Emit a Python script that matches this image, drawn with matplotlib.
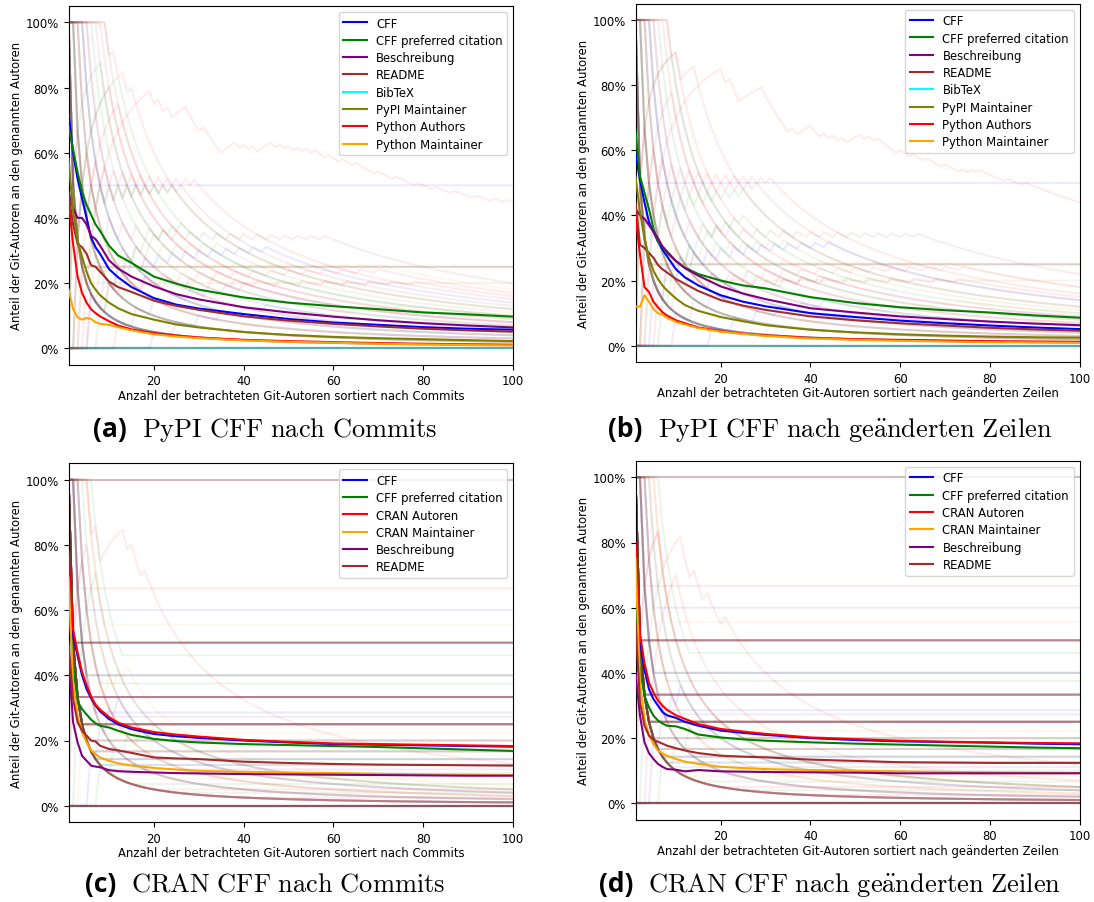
import numpy as np
import matplotlib
matplotlib.use("Agg")
import matplotlib.pyplot as plt
from matplotlib.ticker import PercentFormatter

x_pts = [1, 2, 3, 4, 5, 6, 7, 8, 10, 12, 15, 20, 25, 30, 40, 50, 60, 70, 80, 90, 100]

pypi_sources = ["CFF", "CFF preferred citation", "Beschreibung", "README", "BibTeX",
                "PyPI Maintainer", "Python Authors", "Python Maintainer"]
cran_sources = ["CFF", "CFF preferred citation", "CRAN Autoren", "CRAN Maintainer",
                "Beschreibung", "README"]

colors = {"CFF": "blue", "CFF preferred citation": "green", "Beschreibung": "purple",
          "README": "brown", "BibTeX": "cyan", "PyPI Maintainer": "olive",
          "Python Authors": "red", "Python Maintainer": "orange",
          "CRAN Autoren": "red", "CRAN Maintainer": "orange"}

# Mittelwerte in Prozent -- (a) PyPI nach Commits
pypi_commits_mean = {
    "CFF": [72, 60, 52, 46, 40, 34, 31, 29, 24.3, 21.8, 18.8, 15.4, 13.4, 12.2, 10.5, 9, 7.9, 7.2, 6.5, 6, 5.7],
    "CFF preferred citation": [68, 61, 54, 48, 44, 41, 38, 36, 31.5, 28.5, 26.2, 22, 19.8, 18, 15.6, 14, 12.9, 12, 11, 10.4, 9.7],
    "Beschreibung": [48, 43, 40, 40, 38, 34.5, 33.5, 31.5, 27, 24.5, 22, 19, 16.6, 15, 12.6, 11, 9.7, 8.6, 7.7, 7, 6.4],
    "README": [47, 38, 32, 31, 29, 25.5, 25, 23.5, 20.5, 18.8, 17.3, 14.6, 13, 11.8, 9.8, 8.5, 7.5, 6.7, 6, 5.5, 5.1],
    "BibTeX": [],
    "PyPI Maintainer": [58, 42, 33, 28, 23.5, 20, 18, 16.3, 14, 12.3, 10.5, 8.8, 7.3, 6.4, 5, 4.1, 3.5, 3.1, 2.8, 2.5, 2.2],
    "Python Authors": [45, 32, 22, 17, 14, 12, 10.8, 9.8, 8.3, 7, 5.8, 4.7, 3.9, 3.3, 2.6, 2.2, 1.9, 1.6, 1.4, 1.2, 1.1],
    "Python Maintainer": [18, 12, 9.5, 8.8, 9.3, 9, 8, 7.5, 7.2, 6.5, 5.5, 4.3, 3.6, 3.1, 2.4, 2, 1.7, 1.4, 1.2, 1, 0.9],
}

# (b) PyPI nach geänderten Zeilen
pypi_lines_mean = {
    "CFF": [59, 51, 44, 38, 35, 32, 29.5, 27.5, 23.5, 21, 18.5, 15.5, 13.5, 12.1, 10, 8.8, 7.7, 6.9, 6.2, 5.6, 5.1],
    "CFF preferred citation": [66, 52, 47, 42, 36, 32, 30.5, 28.5, 26, 24, 22, 20, 18.5, 17.6, 14.9, 13.1, 11.8, 10.9, 10.2, 9.3, 8.6],
    "Beschreibung": [42, 40, 39, 37, 35, 33, 30.5, 29, 26, 23.8, 21.5, 18.2, 16, 14.3, 11.5, 10.2, 9, 8.2, 7.4, 6.8, 6.3],
    "README": [44, 31, 30, 28.5, 27, 24.8, 23.5, 22.5, 20.5, 19, 16.8, 14, 12.3, 11, 9, 7.8, 6.9, 6.2, 5.5, 5, 4.6],
    "BibTeX": [],
    "PyPI Maintainer": [52, 41, 33, 27, 23, 20.5, 18.5, 17, 14.5, 12.5, 10.7, 8.8, 7.5, 6.3, 4.9, 4.1, 3.5, 3.1, 2.8, 2.6, 2.5],
    "Python Authors": [40, 28, 18, 16.5, 13.5, 11.8, 10.3, 9.3, 7.8, 6.9, 5.6, 4.5, 3.7, 3.2, 2.4, 2, 1.8, 1.6, 1.4, 1.3, 1.2],
    "Python Maintainer": [12, 12, 15.5, 13.5, 11.2, 10, 9.5, 8.6, 7.3, 6.5, 5.4, 4.3, 3.6, 3, 2.2, 1.8, 1.5, 1.3, 1.1, 1, 0.9],
}

# (c) CRAN nach Commits
cran_commits_mean = {
    "CFF": [76, 52, 46, 40, 35.8, 33, 30.7, 29, 26.6, 25, 23.5, 22, 21.3, 20.8, 20, 19.4, 18.9, 18.7, 18.5, 18.3, 18.1],
    "CFF preferred citation": [62, 43, 32, 29.6, 28, 26.4, 25.3, 24.5, 24, 23, 21.7, 20.5, 19.8, 19.4, 18.9, 18.6, 18.3, 18, 17.6, 17.2, 16.8],
    "CRAN Autoren": [78, 54, 47, 41, 37, 33.5, 31, 29.5, 27.2, 25.5, 24, 22.6, 21.8, 21.2, 20.2, 19.6, 19.1, 18.9, 18.7, 18.5, 18.3],
    "CRAN Maintainer": [70, 37.8, 27.6, 22.5, 19.4, 17, 15.8, 14.8, 13.8, 13, 12.3, 11.6, 11.1, 10.7, 10.4, 10.2, 10, 9.8, 9.6, 9.5, 9.4],
    "Beschreibung": [45, 25.6, 19.4, 15.3, 13.8, 12.3, 12, 11.8, 10.9, 10.6, 10.4, 10.2, 10, 9.9, 9.7, 9.6, 9.5, 9.4, 9.3, 9.2, 9.2],
    "README": [50, 32.7, 25.6, 23, 21.5, 20, 19.7, 18.4, 17.4, 17, 16.2, 14.8, 14.5, 14.3, 13.5, 13.1, 12.8, 12.6, 12.5, 12.4, 12.3],
}

# (d) CRAN nach geänderten Zeilen
cran_lines_mean = {
    "CFF": [75, 50, 41, 35, 32, 30, 28, 27, 26.2, 25, 23.8, 22.3, 21.6, 21, 20, 19.4, 19, 18.8, 18.6, 18.3, 18.1],
    "CFF preferred citation": [65, 41, 33, 29.4, 26.9, 25.4, 24.5, 23.8, 23.6, 22.8, 21.1, 20.2, 19.6, 19.2, 18.7, 18.3, 18, 17.7, 17.4, 17.1, 16.9],
    "CRAN Autoren": [80, 52, 43, 37, 34, 31.5, 30, 28.7, 27, 25.9, 24.3, 22.8, 22, 21.3, 20.2, 19.7, 19.2, 18.9, 18.7, 18.5, 18.4],
    "CRAN Maintainer": [75, 37, 25.9, 20.8, 18.2, 16.2, 15.3, 14.6, 13.6, 12.8, 12.1, 11.2, 10.8, 10.5, 10.2, 10, 9.8, 9.6, 9.5, 9.4, 9.3],
    "Beschreibung": [40, 26.9, 18.7, 15.4, 13.6, 12.1, 11.2, 10.5, 10.3, 9.8, 10.2, 9.8, 9.7, 9.6, 9.5, 9.4, 9.2, 9.2, 9.2, 9.2, 9.2],
    "README": [55, 31, 23.8, 20.8, 19.5, 18.9, 18.3, 17.7, 16.9, 16.2, 15.4, 14.6, 14.3, 14.1, 13.4, 13, 12.6, 12.5, 12.4, 12.4, 12.4],
}

# Einzelne Repositories im Hintergrund:
# (Quelle, Rang des ersten genannten Git-Autors, Anzahl genannter Autoren, Rangabstand, Anzahl Git-Autoren, Anzahl Repos)
pypi_commits_bg = [
    ("BibTeX", 1, 0, 1, 200, 18),
    ("BibTeX", 1, 0, 1, 200, 1), ("BibTeX", 1, 0, 1, 200, 1), ("BibTeX", 1, 0, 1, 200, 1),
    ("BibTeX", 1, 0, 1, 200, 1), ("BibTeX", 1, 0, 1, 200, 1), ("BibTeX", 1, 0, 1, 200, 1),
    ("CFF", 1, 1, 1, 200, 13), ("README", 1, 2, 1, 200, 7), ("PyPI Maintainer", 1, 3, 1, 200, 4),
    ("CFF", 1, 4, 1, 200, 3), ("Beschreibung", 1, 5, 1, 200, 2),
    ("CFF preferred citation", 1, 6, 1, 200, 1), ("README", 1, 7, 1, 200, 1),
    ("Python Authors", 1, 8, 1, 200, 1), ("README", 1, 9, 1, 200, 1),
    ("CFF preferred citation", 2, 7, 1, 200, 1), ("README", 3, 8, 1, 200, 1),
    ("Python Authors", 4, 9, 1, 200, 1), ("Python Authors", 5, 12, 1, 200, 1),
    ("CFF preferred citation", 2, 12, 2, 200, 1), ("README", 1, 20, 3, 200, 1),
    ("Python Authors", 1, 15, 2, 200, 1), ("Python Maintainer", 2, 18, 4, 200, 1),
    ("CFF", 6, 14, 3, 200, 1), ("Python Authors", 3, 16, 5, 200, 1),
    ("CFF preferred citation", 8, 10, 2, 200, 1), ("Beschreibung", 12, 8, 4, 200, 1),
    ("CFF", 20, 6, 5, 200, 1), ("Python Maintainer", 30, 10, 5, 200, 1),
    ("README", 2, 13, 2, 200, 1), ("PyPI Maintainer", 4, 11, 3, 200, 1),
    ("Python Authors", 6, 17, 4, 200, 1), ("CFF preferred citation", 3, 10, 1, 200, 1),
    ("README", 1, 1, 1, 4, 4), ("CFF", 1, 1, 1, 2, 1), ("PyPI Maintainer", 1, 1, 1, 5, 1),
]
pypi_commits_zigzag = [1, 2, 3, 4, 5, 6, 7, 8, 9, 11, 13, 15, 17, 18, 19, 21, 23, 25, 26, 27, 31,
                       36, 37, 38, 40, 42, 44, 45, 46, 48, 50, 52, 54, 56, 59, 62, 65, 70, 74,
                       79, 83, 87, 92, 96, 99]

pypi_lines_bg = [
    ("BibTeX", 1, 0, 1, 200, 18),
    ("BibTeX", 1, 0, 1, 200, 1), ("BibTeX", 1, 0, 1, 200, 1), ("BibTeX", 1, 0, 1, 200, 1),
    ("BibTeX", 1, 0, 1, 200, 1), ("BibTeX", 1, 0, 1, 200, 1),
    ("CFF", 1, 1, 1, 200, 13), ("README", 1, 2, 1, 200, 7), ("PyPI Maintainer", 1, 3, 1, 200, 4),
    ("CFF", 1, 4, 1, 200, 3), ("Beschreibung", 1, 5, 1, 200, 2),
    ("CFF preferred citation", 1, 6, 1, 200, 1), ("README", 1, 8, 1, 200, 1),
    ("Python Authors", 1, 7, 1, 200, 1), ("CFF preferred citation", 2, 8, 1, 200, 1),
    ("README", 3, 7, 1, 200, 1), ("Python Authors", 2, 9, 1, 200, 1),
    ("Python Authors", 4, 12, 1, 200, 1), ("CFF preferred citation", 3, 12, 2, 200, 1),
    ("README", 1, 22, 3, 200, 1), ("Python Authors", 1, 16, 2, 200, 1),
    ("Python Maintainer", 2, 18, 4, 200, 1), ("CFF", 5, 14, 3, 200, 1),
    ("Python Authors", 3, 15, 5, 200, 1), ("CFF preferred citation", 7, 10, 2, 200, 1),
    ("Beschreibung", 10, 9, 4, 200, 1), ("CFF", 18, 6, 5, 200, 1),
    ("Python Maintainer", 28, 10, 5, 200, 1), ("README", 2, 14, 2, 200, 1),
    ("PyPI Maintainer", 4, 11, 3, 200, 1), ("Python Authors", 6, 18, 4, 200, 1),
    ("README", 1, 1, 1, 4, 4), ("CFF", 1, 1, 1, 2, 1), ("PyPI Maintainer", 1, 1, 1, 5, 1),
]
pypi_lines_zigzag = [1, 2, 3, 4, 5, 6, 7, 8, 10, 12, 13, 14, 16, 17, 18, 19, 20, 22, 25, 26, 27,
                     28, 29, 36, 38, 39, 40, 43, 45, 47, 49, 50, 51, 53, 55, 60, 63, 66, 70, 74,
                     76, 78, 84, 88]

cran_commits_bg = [
    ("README", 1, 0, 1, 200, 22),
    ("CFF", 1, 1, 1, 200, 12), ("README", 1, 2, 1, 200, 4), ("CRAN Autoren", 1, 3, 1, 200, 2),
    ("CFF preferred citation", 1, 4, 1, 200, 1), ("CRAN Autoren", 1, 5, 1, 200, 1),
    ("README", 2, 3, 1, 200, 1), ("CRAN Autoren", 2, 4, 1, 200, 1),
    ("CFF preferred citation", 3, 5, 1, 200, 1), ("CFF", 6, 4, 2, 200, 1),
    ("CRAN Maintainer", 4, 6, 2, 200, 1), ("CFF preferred citation", 8, 5, 3, 200, 1),
    ("CFF", 1, 1, 1, 1, 5), ("CRAN Autoren", 1, 2, 1, 3, 1), ("CFF", 1, 3, 1, 5, 1),
    ("CRAN Maintainer", 1, 5, 1, 9, 1), ("CFF", 1, 1, 1, 2, 11),
    ("CFF preferred citation", 1, 6, 1, 13, 1), ("README", 1, 2, 1, 5, 3),
    ("CFF preferred citation", 1, 3, 1, 8, 1), ("CRAN Autoren", 1, 1, 1, 3, 11),
    ("CFF", 1, 2, 1, 7, 1), ("Beschreibung", 1, 3, 1, 11, 1), ("README", 1, 1, 1, 4, 13),
    ("CRAN Maintainer", 1, 2, 1, 9, 1), ("CFF", 1, 1, 1, 5, 4), ("CFF", 1, 1, 1, 6, 4),
    ("README", 1, 1, 1, 7, 3), ("CFF", 1, 1, 1, 8, 2), ("Beschreibung", 1, 1, 1, 9, 1),
    ("CFF preferred citation", 1, 1, 1, 10, 1), ("CRAN Maintainer", 1, 1, 1, 12, 1),
    ("CFF preferred citation", 1, 1, 1, 15, 1), ("CRAN Autoren", 1, 1, 1, 20, 1),
    ("CFF preferred citation", 1, 1, 1, 25, 1), ("CRAN Autoren", 1, 1, 1, 40, 1),
]
cran_commits_zigzag = [1, 2, 3, 4, 5, 7, 9, 10, 11, 12, 13, 15, 18]

cran_lines_bg = [
    ("README", 1, 0, 1, 200, 22),
    ("CFF", 1, 1, 1, 200, 12), ("README", 1, 2, 1, 200, 4), ("CRAN Autoren", 1, 3, 1, 200, 2),
    ("CFF preferred citation", 1, 4, 1, 200, 1), ("CRAN Autoren", 1, 5, 1, 200, 1),
    ("README", 2, 4, 1, 200, 1), ("CRAN Autoren", 2, 5, 1, 200, 1),
    ("CFF preferred citation", 3, 5, 1, 200, 1), ("CFF", 5, 4, 2, 200, 1),
    ("CRAN Autoren", 4, 7, 1, 200, 1), ("CFF preferred citation", 7, 5, 3, 200, 1),
    ("CFF", 1, 1, 1, 1, 5), ("CRAN Autoren", 1, 2, 1, 3, 1), ("CFF", 1, 3, 1, 5, 1),
    ("CRAN Maintainer", 1, 5, 1, 9, 1), ("CFF", 1, 1, 1, 2, 11),
    ("CFF preferred citation", 1, 6, 1, 13, 1), ("README", 1, 2, 1, 5, 3),
    ("CFF preferred citation", 1, 3, 1, 8, 1), ("CRAN Autoren", 1, 1, 1, 3, 11),
    ("CFF", 1, 2, 1, 7, 1), ("Beschreibung", 1, 3, 1, 11, 1), ("README", 1, 1, 1, 4, 13),
    ("CRAN Maintainer", 1, 2, 1, 9, 1), ("CFF", 1, 1, 1, 5, 4), ("CFF", 1, 1, 1, 6, 4),
    ("README", 1, 1, 1, 7, 3), ("CFF", 1, 1, 1, 8, 2), ("Beschreibung", 1, 1, 1, 9, 1),
    ("CFF preferred citation", 1, 1, 1, 10, 1), ("CRAN Maintainer", 1, 1, 1, 12, 1),
    ("CFF preferred citation", 1, 1, 1, 15, 1), ("CRAN Autoren", 1, 1, 1, 20, 1),
    ("CFF preferred citation", 1, 1, 1, 25, 1), ("CRAN Autoren", 1, 1, 1, 40, 1),
]
cran_lines_zigzag = [1, 2, 3, 4, 6, 8, 9, 10, 11, 14, 17, 21]

n_axis = np.arange(1, 101)


def share(ranks, n_git):
    # Anteil der top-n Git-Autoren, die in der Quelle genannt werden
    m = np.minimum(n_axis, n_git)
    hits = np.searchsorted(np.sort(np.asarray(ranks)), m, side="right")
    return hits / m


def draw_panel(ax, sources, mean, bg, zigzag, zigzag_src, xlabel):
    for src, first, named, step, n_git, repos in bg:
        ranks = [first + step * i for i in range(named)]
        y = share(ranks, n_git)
        start = sources.index(src)
        for r in range(repos):
            c = colors[sources[(start + r) % len(sources)]]
            ax.plot(n_axis, y, color=c, alpha=0.08, lw=1.5)
    ax.plot(n_axis, share(zigzag, 200), color=colors[zigzag_src], alpha=0.08, lw=1.5)

    for src in sources:
        vals = np.array(mean[src]) / 100
        ax.plot(x_pts[:len(vals)], vals, color=colors[src], lw=1.5, label=src, zorder=5)

    ax.set_xlim(1, 100)
    ax.set_ylim(-0.05, 1.05)
    ax.set_xticks([20, 40, 60, 80, 100])
    ax.set_yticks([0, 0.2, 0.4, 0.6, 0.8, 1.0])
    ax.yaxis.set_major_formatter(PercentFormatter(1.0, decimals=0))
    ax.tick_params(labelsize=8.4)
    ax.set_xlabel(xlabel, fontsize=8.4, labelpad=1)
    ax.set_ylabel("Anteil der Git-Autoren an den genannten Autoren", fontsize=8.4, labelpad=2)
    ax.legend(loc="upper right", fontsize=8.4, labelspacing=0.37)


fig = plt.figure(figsize=(10.94, 9.03), dpi=100)
W, H = 1094, 903


def rect(l, t, r, b):
    return [l / W, 1 - b / H, (r - l) / W, (b - t) / H]


ax_a = fig.add_axes(rect(68.6, 7, 513, 365.6))
ax_b = fig.add_axes(rect(635.5, 4.7, 1079.6, 363))
ax_c = fig.add_axes(rect(68.6, 464.4, 513, 823))
ax_d = fig.add_axes(rect(635.5, 462, 1079.6, 820.6))

lab_commits = "Anzahl der betrachteten Git-Autoren sortiert nach Commits"
lab_lines = "Anzahl der betrachteten Git-Autoren sortiert nach geänderten Zeilen"

draw_panel(ax_a, pypi_sources, pypi_commits_mean, pypi_commits_bg, pypi_commits_zigzag, "Python Authors", lab_commits)
draw_panel(ax_b, pypi_sources, pypi_lines_mean, pypi_lines_bg, pypi_lines_zigzag, "Python Authors", lab_lines)
draw_panel(ax_c, cran_sources, cran_commits_mean, cran_commits_bg, cran_commits_zigzag, "CRAN Autoren", lab_commits)
draw_panel(ax_d, cran_sources, cran_lines_mean, cran_lines_bg, cran_lines_zigzag, "CRAN Autoren", lab_lines)

# Unterschriften der Teilabbildungen (Computer-Modern-Schrift über mathtext)
captions = [(265, 430, "(a)", r"$\mathrm{PyPI\ CFF\ nach\ Commits}$"),
            (830, 430, "(b)", r"$\mathrm{PyPI\ CFF\ nach\ ge\ddot{a}nderten\ Zeilen}$"),
            (265, 885, "(c)", r"$\mathrm{CRAN\ CFF\ nach\ Commits}$"),
            (830, 885, "(d)", r"$\mathrm{CRAN\ CFF\ nach\ ge\ddot{a}nderten\ Zeilen}$")]
texts = []
for cx, cy, tag, txt in captions:
    t1 = fig.text(0, 1 - cy / H, tag, fontsize=19, fontweight="bold", family="Open Sans", va="center")
    t2 = fig.text(0, 1 - cy / H, txt, fontsize=19, math_fontfamily="cm", va="center")
    texts.append((cx, t1, t2))
fig.canvas.draw()
rend = fig.canvas.get_renderer()
for cx, t1, t2 in texts:
    w1 = t1.get_window_extent(rend).width
    w2 = t2.get_window_extent(rend).width
    gap = 15
    x0 = cx - (w1 + gap + w2) / 2
    t1.set_x(x0 / W)
    t2.set_x((x0 + w1 + gap) / W)

fig.savefig("out.png", dpi=100)
